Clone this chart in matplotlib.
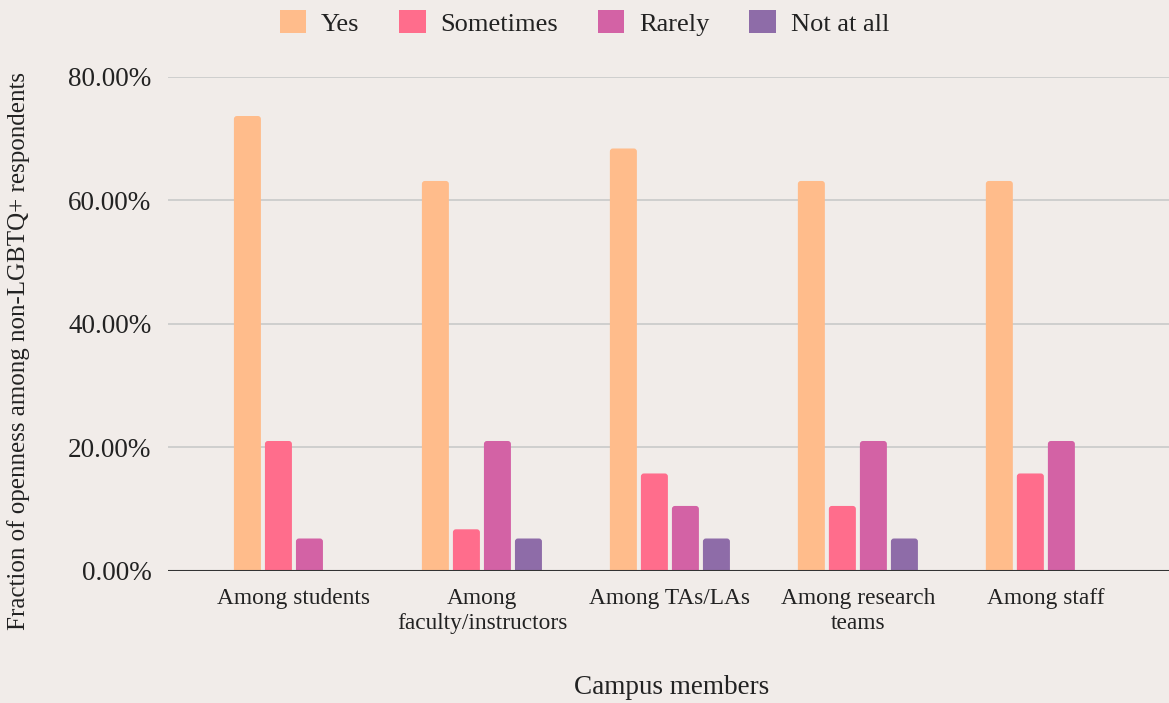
import matplotlib.pyplot as plt
import numpy as np
from matplotlib.patches import Patch, FancyBboxPatch

plt.rcParams['font.family'] = ['Liberation Serif', 'DejaVu Serif']

groups = ["Among students", "Among\nfaculty/instructors", "Among TAs/LAs",
          "Among research\nteams", "Among staff"]
answers = ["Yes", "Sometimes", "Rarely", "Not at all"]

yes = [73.68, 63.16, 68.42, 63.16, 63.16]
sometimes = [21.05, 6.75, 15.79, 10.53, 15.79]
rarely = [5.26, 21.05, 10.53, 21.05, 21.05]
not_at_all = [0.0, 5.26, 5.26, 5.26, 0.0]

colors = ["#FFBC8B", "#FF6D8C", "#D362A5", "#8E6CA8"]
bg = "#F1ECE9"
ink = "#222222"

fig = plt.figure(figsize=(11.69, 7.03), dpi=100, facecolor=bg)
ax = fig.add_axes([0.1437, 0.1878, 0.8563, 0.7027])
ax.set_facecolor(bg)

x = np.arange(len(groups))
pitch = 0.165
width = 0.1436
ax.set_xlim(-0.67, 4.655)
ax.set_ylim(0, 80)

# bars with slightly rounded tops (bottom corners sink below the baseline)
series = [yes, sometimes, rarely, not_at_all]
r = 0.016
aspect = (3 / 6.175) / r
for i, (vals, col) in enumerate(zip(series, colors)):
    bars = ax.bar(x + (i - 1.5) * pitch, vals, width=width, color=col,
                  linewidth=0, zorder=3)
    for b in bars:
        h = b.get_height()
        b.remove()
        if h <= 0:
            continue
        ax.add_patch(FancyBboxPatch((b.get_x(), -2), b.get_width(), h + 2,
                                    boxstyle=f"round,pad=0,rounding_size={r}",
                                    mutation_aspect=aspect, facecolor=col,
                                    edgecolor="none", zorder=3))

ax.set_yticks([0, 20, 40, 60, 80])
ax.set_yticklabels([f"{v:.2f}%" for v in [0, 20, 40, 60, 80]], fontsize=19.5,
                   color=ink)
ax.grid(axis="y", color="#CCCCCC", linewidth=1.3, zorder=0)
ax.set_axisbelow(True)
ax.axhline(0, color="#333333", linewidth=1.5, zorder=4)

ax.set_xticks(x)
ax.set_xticklabels(groups, fontsize=16.8, color=ink, linespacing=1.3)
ax.tick_params(axis="y", length=0, pad=12)
ax.tick_params(axis="x", length=0, pad=12)
for s in ax.spines.values():
    s.set_visible(False)

fig.text(0.5744, 1 - 688 / 703, "Campus members", fontsize=19.5, color=ink,
         ha="center", va="center")
fig.text(0.016, 0.5, "Fraction of openness among non-LGBTQ+ respondents",
         rotation=90, fontsize=18, color=ink, va="center", ha="center")

handles = [Patch(facecolor=c, edgecolor="none") for c in colors]
fig.legend(handles, answers, loc="upper center", bbox_to_anchor=(0.5, 1.02),
           ncol=4, frameon=False, fontsize=19, handlelength=1.0,
           handleheight=1.0, columnspacing=1.5, handletextpad=0.57,
           labelcolor=ink)

fig.savefig("out.png", dpi=100, facecolor=bg)
